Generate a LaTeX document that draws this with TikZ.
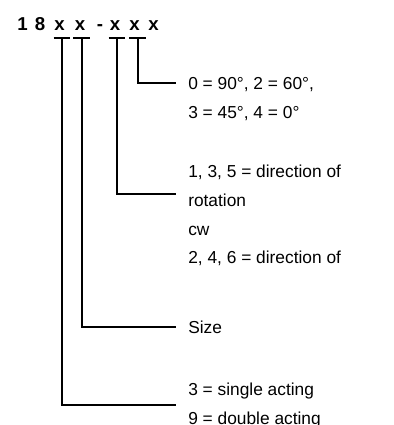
\documentclass[tikz,border=0pt]{standalone}
\usepackage{fontspec}
\setmainfont{Liberation Sans}
\begin{document}
\begin{tikzpicture}[x=0.75pt,y=-0.75pt,
  conn/.style={line width=1.5pt},
  ul/.style={line width=1.5pt},
  ttl/.style={anchor=base, inner sep=0pt, font=\bfseries\fontsize{14}{16}\selectfont},
  lbl/.style={anchor=base west, inner sep=0pt, font=\fontsize{13}{15}\selectfont}]
\useasboundingbox[fill=white] (0,0) rectangle (393,425);
% title characters
\node[ttl] (c1) at (22.5,30) {1};
\node[ttl] (c2) at (40,30) {8};
\node[ttl] (c3) at (59.5,30) {x};
\node[ttl] (c4) at (80,30) {x};
\node[ttl] (c5) at (100,30) {-};
\node[ttl] (c6) at (115,30) {x};
\node[ttl] (c7) at (134.5,30) {x};
\node[ttl] (c8) at (153.5,30) {x};
% underlines
\coordinate (u1) at (62,37.5);
\coordinate (u2) at (81.5,37.5);
\coordinate (u3) at (117,37.5);
\coordinate (u4) at (137.5,37.5);
\foreach \u in {u1,u2,u3,u4}{\draw[ul] ([xshift=-6.3pt]\u) -- ([xshift=6.3pt]\u);}
% connector ends
\coordinate (e4) at (175.5,83);
\coordinate (e3) at (175.5,194);
\coordinate (e2) at (175.5,327);
\coordinate (e1) at (175.5,405);
\draw[conn] (u4) |- (e4);
\draw[conn] (u3) |- (e3);
\draw[conn] (u2) |- (e2);
\draw[conn] (u1) |- (e1);
% labels
\node[lbl] (t4a) at (188,89.5) {0 = 90°, 2 = 60°,};
\node[lbl] (t4b) at (188,118) {3 = 45°, 4 = 0°};
\node[lbl] (t3a) at (188,177.5) {1, 3, 5 = direction of};
\node[lbl] (t3b) at (188,206.5) {rotation};
\node[lbl] (t3c) at (188,235) {cw};
\node[lbl] (t3d) at (188,263.5) {2, 4, 6 = direction of};
\node[lbl] (t2) at (188,333.5) {Size};
\node[lbl] (t1a) at (188,395) {3 = single acting};
\node[lbl] (t1b) at (188,424) {9 = double acting};
\end{tikzpicture}
\end{document}
